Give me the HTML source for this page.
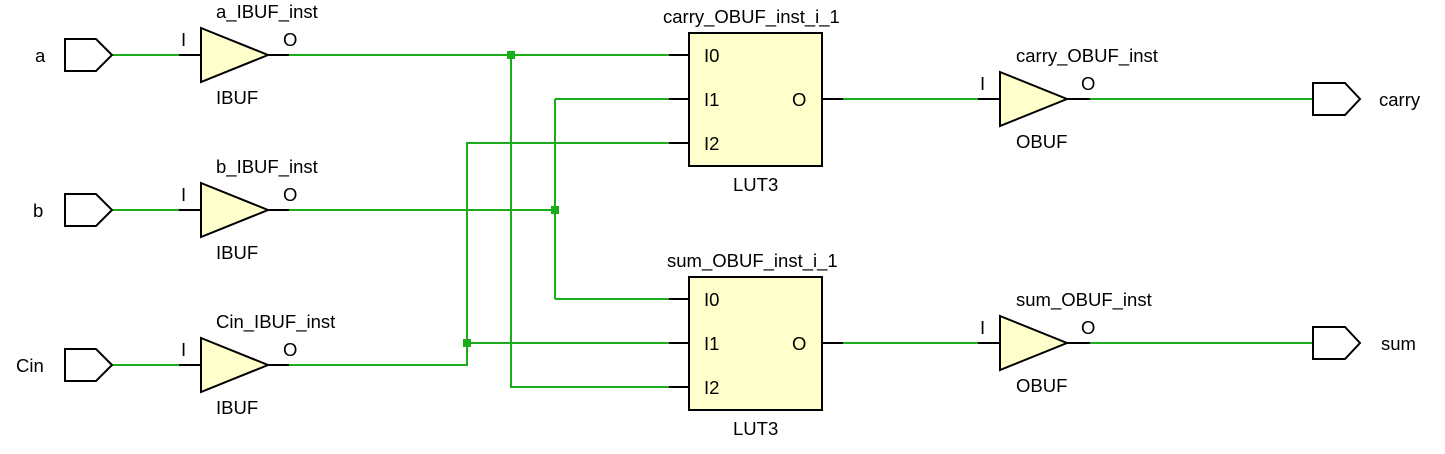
<!DOCTYPE html>
<html><head><meta charset="utf-8"><style>
html,body{margin:0;padding:0;background:#fff;}
svg text{font-family:"Liberation Sans",sans-serif;font-size:18.5px;fill:#000;}
</style></head><body>
<svg width="1445" height="449" viewBox="0 0 1445 449" xmlns="http://www.w3.org/2000/svg">
<g fill="none" stroke="#1aad19" stroke-width="2">
<path d="M112 55H179 M112 210H179 M112 365H179"/>
<path d="M289 55H669 M511 55V387H669"/>
<path d="M289 210H555 M555 99V299 M555 99H669 M555 299H669"/>
<path d="M289 365H467V143H669 M467 343H669"/>
<path d="M843 99H978 M843 343H978 M1090 99H1313 M1090 343H1313"/>
</g>
<g fill="#1aad19">
<rect x="507" y="51" width="8" height="8"/>
<rect x="551" y="206" width="8" height="8"/>
<rect x="463" y="339" width="8" height="8"/>
</g>
<g stroke="#000" stroke-width="2" fill="none">
<path d="M65 39H96L112 55L96 71H65Z"/>
<path d="M65 194H96L112 210L96 226H65Z"/>
<path d="M65 349H96L112 365L96 381H65Z"/>
<path d="M1313 83H1345L1360 99L1345 115H1313Z"/>
<path d="M1313 327H1345L1360 343L1345 359H1313Z"/>
<path d="M179 55H201 M268 55H289 M179 210H201 M268 210H289 M179 365H201 M268 365H289"/>
<path d="M669 55H689 M669 99H689 M669 143H689 M822 99H843"/>
<path d="M669 299H689 M669 343H689 M669 387H689 M822 343H843"/>
<path d="M978 99H1000 M1067 99H1090 M978 343H1000 M1067 343H1090"/>
</g>
<g stroke="#000" stroke-width="2" fill="#ffffcc">
<path d="M201 28L268 55L201 82Z"/>
<path d="M201 183L268 210L201 237Z"/>
<path d="M201 338L268 365L201 392Z"/>
<path d="M1000 72L1067 99L1000 126Z"/>
<path d="M1000 316L1067 343L1000 370Z"/>
<rect x="689" y="33" width="133" height="133"/>
<rect x="689" y="277" width="133" height="133"/>
</g>
<text x="35" y="62">a</text>
<text x="33" y="217">b</text>
<text x="16" y="372">Cin</text>
<text x="1379" y="106">carry</text>
<text x="1381" y="350">sum</text>
<text x="216" y="18">a_IBUF_inst</text>
<text x="216" y="173">b_IBUF_inst</text>
<text x="216" y="328">Cin_IBUF_inst</text>
<text x="216" y="104">IBUF</text>
<text x="216" y="259">IBUF</text>
<text x="216" y="414">IBUF</text>
<text x="181" y="46">I</text><text x="283" y="46">O</text>
<text x="181" y="201">I</text><text x="283" y="201">O</text>
<text x="181" y="356">I</text><text x="283" y="356">O</text>
<text x="663" y="23">carry_OBUF_inst_i_1</text>
<text x="667" y="267">sum_OBUF_inst_i_1</text>
<text x="704" y="62">I0</text><text x="704" y="106">I1</text><text x="704" y="150">I2</text><text x="792" y="106">O</text>
<text x="704" y="306">I0</text><text x="704" y="350">I1</text><text x="704" y="394">I2</text><text x="792" y="350">O</text>
<text x="733" y="191">LUT3</text>
<text x="733" y="435">LUT3</text>
<text x="1016" y="62">carry_OBUF_inst</text>
<text x="1016" y="306">sum_OBUF_inst</text>
<text x="1016" y="148">OBUF</text>
<text x="1016" y="392">OBUF</text>
<text x="980" y="90">I</text><text x="1081" y="90">O</text>
<text x="980" y="334">I</text><text x="1081" y="334">O</text>
</svg>
</body></html>
